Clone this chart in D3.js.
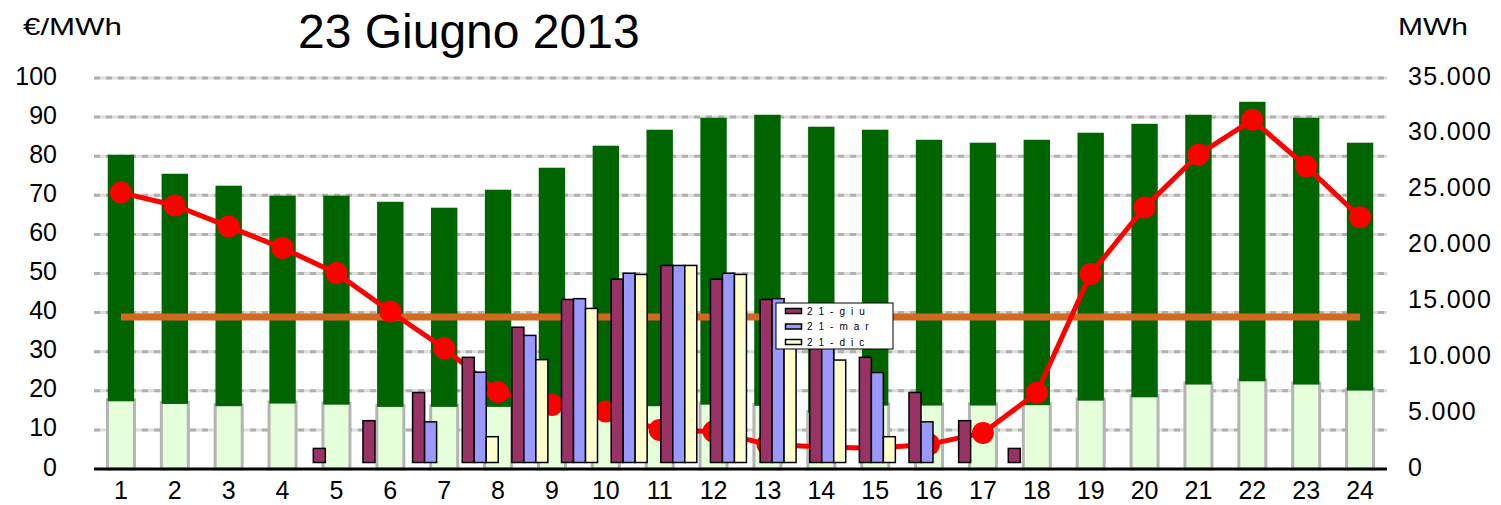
<!DOCTYPE html>
<html>
<head>
<meta charset="utf-8">
<script src="https://cdn.jsdelivr.net/npm/d3@7"></script>
<style>
  body { margin: 0; background: #fff; }
  text { font-family: "Liberation Sans", Arial, sans-serif; fill: #000; }
</style>
</head>
<body>
<div id="grafico"></div>
<script>
// ore del giorno
const ore = [1, 2, 3, 4, 5, 6, 7, 8, 9, 10, 11, 12, 13, 14, 15, 16, 17, 18, 19, 20, 21, 22, 23, 24]
// prezzo orario €/MWh (asse sinistro)
const prezzo = [70.7, 67.4, 62.0, 56.5, 50.1, 40.3, 30.9, 19.7, 16.4, 14.7, 10.0, 9.6,
                6.3, 5.6, 5.3, 6.3, 9.2, 19.5, 49.9, 66.9, 80.4, 89.3, 77.4, 64.4]
// prezzo medio del giorno
const prezzoMedio = 38.9
// domanda MWh (asse destro): parte bassa e totale
const quotaBassa = [6200, 5960, 5760, 6000, 5900, 5700, 5700, 5700, 5750, 5750, 5760, 5900,
                    5800, 5150, 5820, 5820, 5820, 5850, 6260, 6560, 7700, 7990, 7700, 7160]
const domanda = [28130, 26430, 25360, 24470, 24470, 23920, 23390, 25000, 26970, 28940, 30370, 31440,
                 31710, 30640, 30370, 29470, 29210, 29470, 30100, 30900, 31710, 32870, 31440, 29210]
// profili solari
const oreSolari = ["5", "6", "7", "8", "9", "10", "11", "12", "13", "14", "15", "16", "17", "18", "19"]
const serieSolari = ["21-giu", "21-mar", "21-dic"]
const sol21giu = [3.6, 10.7, 17.9, 26.9, 34.6, 41.7, 46.9, 50.4, 46.9, 41.7, 34.6, 26.9, 17.9, 10.7, 3.6]
const sol21mar = [0, 0, 10.4, 23.1, 32.5, 41.9, 48.4, 50.4, 48.4, 41.9, 32.5, 23.0, 10.4, 0, 0]
const sol21dic = [0, 0, 0, 6.6, 26.3, 39.4, 48.1, 50.4, 48.1, 39.4, 26.2, 6.6, 0, 0, 0]
const coloriSolari = ["#993366", "#9999FF", "#FFFFCC"]
// tick degli assi
const tickSinistra = [0, 10, 20, 30, 40, 50, 60, 70, 80, 90, 100]
const tickDestra = [0, 5000, 10000, 15000, 20000, 25000, 30000, 35000]

const W = 1501, H = 505
const pLeft = 94, pRight = 1387, pTop = 78, pBottom = 469

const svg = d3.select("#grafico").append("svg")
    .attr("width", W).attr("height", H)

const x = d3.scaleBand().domain(ore).range([pLeft, pRight])
const yL = d3.scaleLinear().domain([0, 100]).range([pBottom, pTop])
const yR = d3.scaleLinear().domain([0, 35000]).range([pBottom, pTop])

// asse secondario per i profili solari (base leggermente rialzata)
const xSol = d3.scaleBand().domain(oreSolari).range([306.5, 1051.1])
    .paddingInner(0.275).paddingOuter(0.1375)
const xSub = d3.scaleBand().domain(serieSolari).range([0, xSol.bandwidth()])
const ySol = d3.scaleLinear().domain([0, 100]).range([462.5, 462.5 - (pBottom - pTop)])

const it = d3.formatLocale({decimal: ",", thousands: ".", grouping: [3], currency: ["€", ""]})
const fmt = it.format(",d")

//griglia tratteggiata
const griglia = svg.append("g")
tickSinistra.filter(v => v > 0).forEach(v => {
    griglia.append("line").attr("x1", pLeft).attr("x2", pRight)
        .attr("y1", yL(v)).attr("y2", yL(v))
        .attr("stroke", "#dcdcdc").attr("stroke-width", 3)
    griglia.append("line").attr("x1", pLeft).attr("x2", pRight)
        .attr("y1", yL(v)).attr("y2", yL(v))
        .attr("stroke", "#b4aeae").attr("stroke-width", 3)
        .attr("stroke-dasharray", "6,6")
})

// barre chiare (base)
const barW = x.bandwidth() * 0.49
svg.append("g").selectAll("rect").data(ore).join("rect")
    .attr("x", (d) => x(d) + x.bandwidth() / 2 - 13.5)
    .attr("width", 27)
    .attr("y", (d, i) => yR(quotaBassa[i]))
    .attr("height", (d, i) => yR(0) - yR(quotaBassa[i]))
    .attr("fill", "#E5FFDB").attr("stroke", "#b4b4b4").attr("stroke-width", 3)

// barre verdi (domanda)
svg.append("g").selectAll("rect").data(ore).join("rect")
    .attr("x", (d) => x(d) + x.bandwidth() / 2 - barW / 2)
    .attr("width", barW)
    .attr("y", (d, i) => yR(domanda[i]))
    .attr("height", (d, i) => yR(quotaBassa[i]) - yR(domanda[i]) + 1.5)
    .attr("fill", "#006400")

// prezzo medio
const cx = (d) => x(d) + x.bandwidth() / 2
svg.append("line")
    .attr("x1", cx(ore[0])).attr("x2", cx(ore[ore.length - 1]))
    .attr("y1", yL(prezzoMedio)).attr("y2", yL(prezzoMedio))
    .attr("stroke", "#D2691E").attr("stroke-width", 7)

// prezzo orario
const linea = d3.line().x((d, i) => cx(ore[i])).y((d) => yL(d))
svg.append("path").datum(prezzo)
    .attr("d", linea).attr("fill", "none")
    .attr("stroke", "#FF0000").attr("stroke-width", 5)
svg.append("g").selectAll("circle").data(prezzo).join("circle")
    .attr("cx", (d, i) => cx(ore[i])).attr("cy", (d) => yL(d))
    .attr("r", 11).attr("fill", "#FF0000")

// profili solari
const solari = [sol21giu, sol21mar, sol21dic]
const gSol = svg.append("g")
serieSolari.forEach((s, k) => {
    gSol.selectAll(".s" + k)
        .data(oreSolari.map((h, i) => ({h: h, v: solari[k][i]})).filter(d => d.v > 0))
        .join("rect")
        .attr("class", "s" + k)
        .attr("x", (d) => xSol(d.h) + xSub(s))
        .attr("width", xSub.bandwidth())
        .attr("y", (d) => ySol(d.v))
        .attr("height", (d) => ySol(0) - ySol(d.v))
        .attr("fill", coloriSolari[k]).attr("stroke", "#000").attr("stroke-width", 1.5)
})

// asse x
svg.append("line").attr("x1", pLeft).attr("x2", pRight)
    .attr("y1", pBottom).attr("y2", pBottom)
    .attr("stroke", "#000").attr("stroke-width", 3)

svg.append("g").selectAll("text").data(ore).join("text")
    .attr("x", (d) => cx(d)).attr("y", 499)
    .attr("text-anchor", "middle").attr("font-size", 25)
    .text((d) => d)

// etichette asse sinistro
svg.append("g").selectAll("text").data(tickSinistra).join("text")
    .attr("x", 57).attr("y", (d) => yL(d) + 6.5)
    .attr("text-anchor", "end").attr("font-size", 25)
    .text((d) => d)

// etichette asse destro
svg.append("g").selectAll("text").data(tickDestra).join("text")
    .attr("x", 1408).attr("y", (d) => yR(d) + 6.5)
    .attr("font-size", 25).attr("letter-spacing", 1.3)
    .text((d) => fmt(d))

// titoli
svg.append("text").attr("x", 298).attr("y", 48).attr("font-size", 48)
    .text("23 Giugno 2013")
svg.append("text").attr("x", 23).attr("y", 35).attr("font-size", 24)
    .attr("textLength", 99).attr("lengthAdjust", "spacingAndGlyphs")
    .text("€/MWh")
svg.append("text").attr("x", 1398).attr("y", 35).attr("font-size", 24)
    .attr("textLength", 70).attr("lengthAdjust", "spacingAndGlyphs")
    .text("MWh")

// legenda
const leg = svg.append("g").attr("transform", "translate(776,303)")
leg.append("rect").attr("width", 117).attr("height", 46)
    .attr("fill", "#fff").attr("stroke", "#000").attr("stroke-width", 1)
serieSolari.forEach((s, k) => {
    const ly = 8 + k * 15.5
    leg.append("rect").attr("x", 9.5).attr("y", ly - 2.5).attr("width", 16).attr("height", 5)
        .attr("fill", coloriSolari[k]).attr("stroke", "#000").attr("stroke-width", 1.5)
    leg.append("text").attr("x", 31).attr("y", ly + 3.5)
        .attr("font-size", 10).attr("letter-spacing", 6)
        .text(s)
})
</script>
</body>
</html>
